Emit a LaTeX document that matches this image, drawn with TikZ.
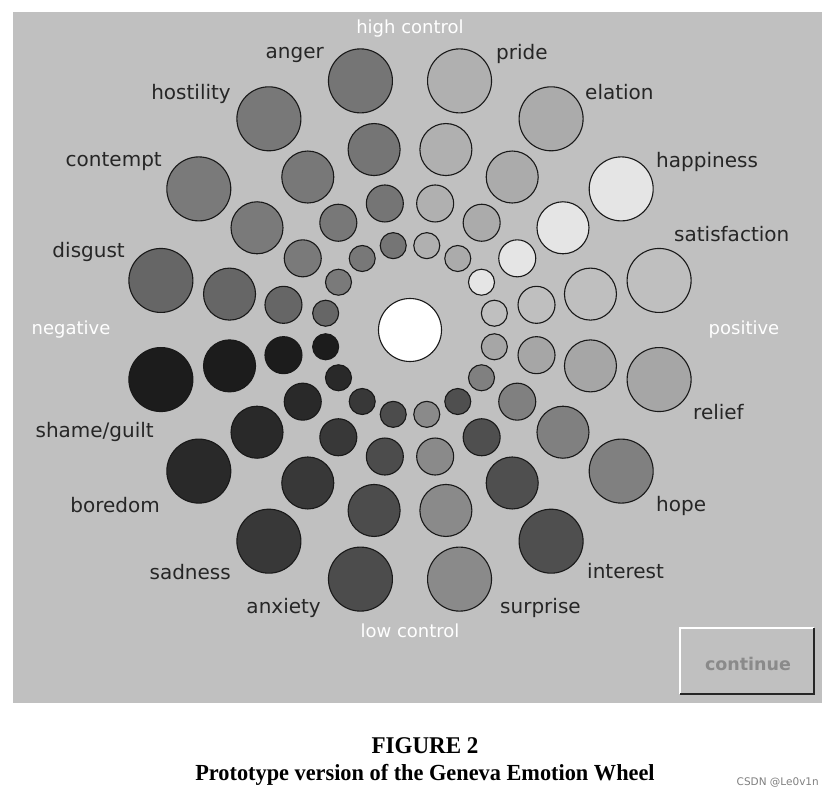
\documentclass[tikz,border=0pt]{standalone}
\usepackage{xcolor}
\usepackage{tikz}
\usepackage{fontspec}
\setmainfont{DejaVu Sans}
\newfontfamily\capfont{Liberation Serif}
\usetikzlibrary{positioning,calc}

\definecolor{panelgray}{RGB}{192,192,192}

\begin{document}
\begin{tikzpicture}[x=1pt, y=1pt,
    emo/.style={font=\fontsize{20}{24}\selectfont, text=black!85, inner sep=0pt},
    axislabel/.style={font=\fontsize{18}{22}\selectfont, text=white, inner sep=0pt, anchor=base},
    bubble/.style={draw=black!90, line width=1.1pt}]
    \useasboundingbox (-410,-465) rectangle (425,330);
    \fill[white] (-410,-465) rectangle (425,330);
    \fill[panelgray] (-397,-373) rectangle (412,318);

    % 16 spokes, four rings each
    \foreach \ang/\shade in {78.75/31, 56.25/33, 33.75/10, 11.25/25, -11.25/35, -33.75/50,
                             -56.25/69, -78.75/46, -101.25/70, -123.75/78, -146.25/84,
                             -168.75/89, 168.75/60, 146.25/52, 123.75/53, 101.25/54}
        \foreach \rr/\cr in {86/13, 129/18.5, 184/26, 254/32}
            \filldraw[bubble, fill=black!\shade] (\ang:\rr) circle (\cr);
    \filldraw[bubble, fill=white] (0,0) circle (31.5);

    % axis labels
    \node[axislabel] (high) at (0,296) {high control};
    \node[axislabel] (low) at (0,-307) {low control};
    \node[axislabel] (neg) at (-339,-4) {negative};
    \node[axislabel] (pos) at (334,-4) {positive};

    % emotion labels
    \node[emo, anchor=base east] (anger) at (-86,271) {anger};
    \node[emo, anchor=base east] (hostility) at (-179,230) {hostility};
    \node[emo, anchor=base east] (contempt) at (-248,163) {contempt};
    \node[emo, anchor=base east] (disgust) at (-285,72) {disgust};
    \node[emo, anchor=base east] (shame) at (-256,-107) {shame/guilt};
    \node[emo, anchor=base east] (boredom) at (-250,-182) {boredom};
    \node[emo, anchor=base east] (sadness) at (-179,-249) {sadness};
    \node[emo, anchor=base east] (anxiety) at (-89,-283) {anxiety};
    \node[emo, anchor=base west] (pride) at (86,270) {pride};
    \node[emo, anchor=base west] (elation) at (175,230) {elation};
    \node[emo, anchor=base west] (happiness) at (246,162) {happiness};
    \node[emo, anchor=base west] (satisfaction) at (264,88) {satisfaction};
    \node[emo, anchor=base west] (relief) at (283,-89) {relief};
    \node[emo, anchor=base west] (hope) at (246,-181) {hope};
    \node[emo, anchor=base west] (interest) at (177,-248) {interest};
    \node[emo, anchor=base west] (surprise) at (90,-283) {surprise};

    % continue button
    \fill[panelgray] (270,-364) rectangle (404,-298);
    \draw[white, line width=1.5pt] (270,-364) -- (270,-298) -- (404,-298);
    \draw[black!85, line width=2pt] (270,-364) -- (404,-364) -- (404,-298);
    \node[font=\bfseries\fontsize{17.5}{20}\selectfont, text=black!46, anchor=base] (continue) at (338,-340) {continue};

    % caption
    \node[font=\capfont\bfseries\fontsize{24}{28}\selectfont, anchor=base, xscale=0.96] (figno) at (15,-423) {FIGURE 2};
    \node[font=\capfont\bfseries\fontsize{23}{27}\selectfont, anchor=base, xscale=0.97] (title) at (15,-450) {Prototype version of the Geneva Emotion Wheel};
    \node[font=\fontsize{10.5}{12}\selectfont, text=black!50, anchor=base east, inner sep=0pt] (mark) at (409,-455) {CSDN @Le0v1n};
\end{tikzpicture}
\end{document}
